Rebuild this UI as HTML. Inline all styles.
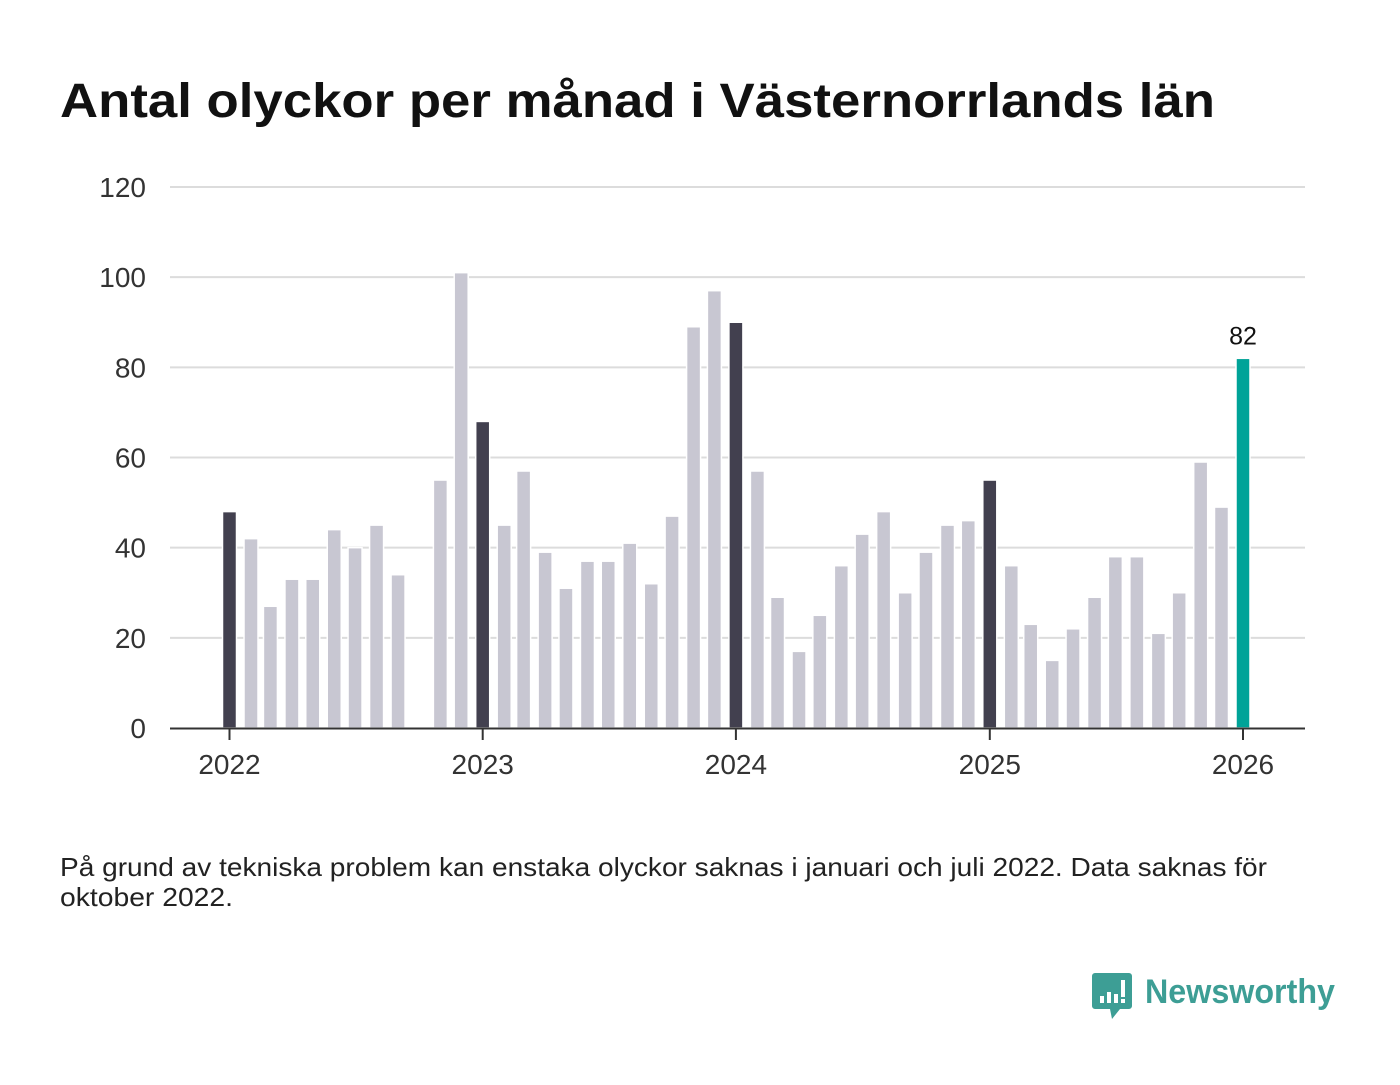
<!DOCTYPE html>
<html><head><meta charset="utf-8">
<style>
body{margin:0;background:#fff;width:1400px;height:1080px;overflow:hidden;font-family:"Liberation Sans",sans-serif;}
</style></head><body>
<svg width="1400" height="1080" xmlns="http://www.w3.org/2000/svg">
<text x="60" y="117" font-size="48" font-weight="bold" fill="#111" textLength="1155" lengthAdjust="spacingAndGlyphs">Antal olyckor per månad i Västernorrlands län</text>
<g id="grid"></g>
<g id="bars"></g>
<g id="xaxis"></g>
<text x="60" y="876" font-size="26" fill="#222" textLength="1207" lengthAdjust="spacingAndGlyphs">På grund av tekniska problem kan enstaka olyckor saknas i januari och juli 2022. Data saknas för</text>
<text x="60" y="906" font-size="26" fill="#222" textLength="173" lengthAdjust="spacingAndGlyphs">oktober 2022.</text>
<g>
<path d="M1095 973 h34 a3 3 0 0 1 3 3 v30 a3 3 0 0 1 -3 3 h-9 l-8 10 l-2 -10 h-15 a3 3 0 0 1 -3 -3 v-30 a3 3 0 0 1 3 -3z" fill="#3d9e95"/>
<rect x="1100" y="996" width="4" height="7" fill="#fff"/><rect x="1107" y="992" width="4" height="11" fill="#fff"/><rect x="1114" y="994" width="4" height="9" fill="#fff"/><rect x="1121" y="980" width="4" height="17" fill="#fff"/><rect x="1121" y="999" width="4" height="4" fill="#fff"/>
<text x="1145" y="1003" font-size="34" font-weight="bold" fill="#3d9e95" textLength="190" lengthAdjust="spacingAndGlyphs">Newsworthy</text>
</g>
</svg>
<script>
const years=[2022,2023,2024,2025,2026];
const yTicks=[0,20,40,60,80,100,120];
const values2022=[48,42,27,33,33,44,40,45,34,null,55,101];
const values2023=[68,45,57,39,31,37,37,41,32,47,89,97];
const values2024=[90,57,29,17,25,36,43,48,30,39,45,46];
const values2025=[55,36,23,15,22,29,38,38,21,30,59,49];
const values2026=[82];
const NS="http://www.w3.org/2000/svg";
const t0=Date.UTC(2022,0,1),t1=Date.UTC(2026,0,1);
const x=(y,m)=>229.5+(Date.UTC(y,m,1)-t0)/(t1-t0)*(1243-229.5);
const yS=v=>728-v*(541/120);
function mk(tag,attrs,parent){const e=document.createElementNS(NS,tag);for(const k in attrs)e.setAttribute(k,attrs[k]);parent.appendChild(e);return e;}
const grid=document.getElementById('grid'),bars=document.getElementById('bars'),xa=document.getElementById('xaxis');
yTicks.forEach(v=>{
 if(v>0){const l=mk('line',{x1:170,x2:1305,y1:yS(v),y2:yS(v),stroke:'#dcdcdc','stroke-width':2},grid);
 
 }
 const t=mk('text',{x:146,y:yS(v)+10,'text-anchor':'end','font-size':28,fill:'#333'},grid);t.textContent=v;
 
 
});
const all=[values2022,values2023,values2024,values2025,values2026];
all.forEach((arr,yi)=>arr.forEach((v,m)=>{
 if(v==null)return;
 const yr=years[yi];const cx=x(yr,m);
 const col=(yr===2026)?'#00a398':(m===0?'#42404f':'#c8c7d2');
 const r=mk('rect',{x:cx-7,y:yS(v),width:14,height:728-yS(v),fill:col,stroke:'#fff','stroke-width':1.5},bars);
 
 
 if(yr===2026){const t=mk('text',{x:cx,y:yS(v)-14,'text-anchor':'middle','font-size':25,fill:'#111'},bars);t.textContent=v;
 
 }
}));
const ax=mk('line',{x1:170,x2:1305,y1:728.5,y2:728.5,stroke:'#333','stroke-width':2},xa);


years.forEach(yr=>{const cx=x(yr,0);
 const tk=mk('line',{x1:cx,x2:cx,y1:728,y2:740,stroke:'#333','stroke-width':2},xa);
 
 
 const t=mk('text',{x:cx,y:774,'text-anchor':'middle','font-size':28,fill:'#333'},xa);t.textContent=yr;
 
 
});
</script>
</body></html>
